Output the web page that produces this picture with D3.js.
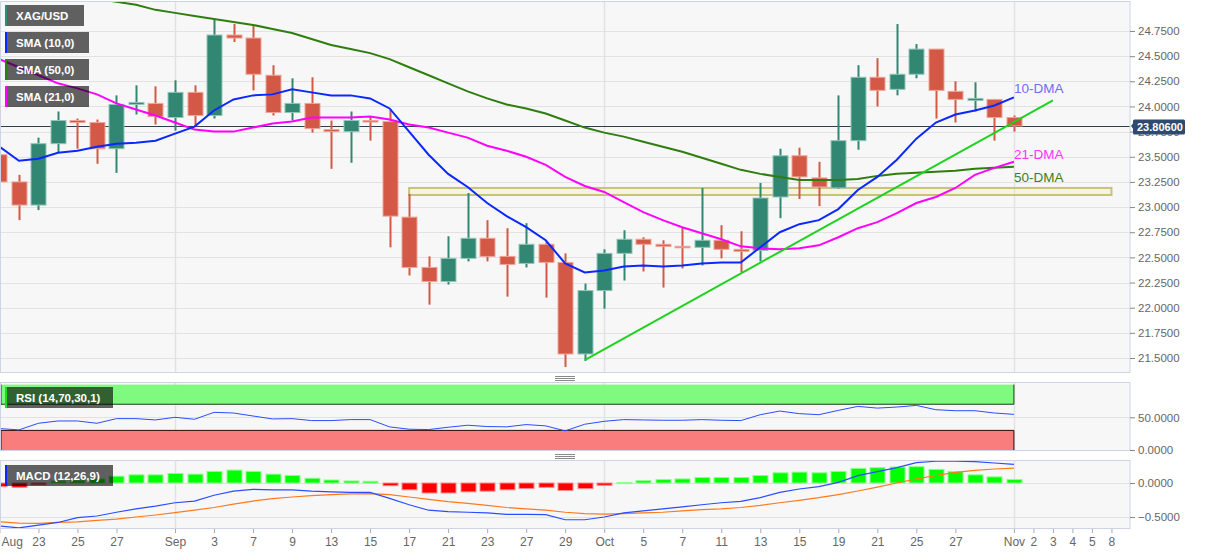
<!DOCTYPE html>
<html>
<head>
<meta charset="utf-8">
<script src="https://cdn.jsdelivr.net/npm/d3@7"></script>
<style>
  body { margin: 0; background: #fff; }
  svg { display: block; font-family: "Liberation Sans", Arial, sans-serif; }
</style>
</head>
<body>
<svg id="chart" width="1207" height="555"></svg>
<script>
// daily XAG/USD candles, Aug 19 - Nov 1
const days = [
  '2021-08-19','2021-08-20','2021-08-23','2021-08-24','2021-08-25','2021-08-26','2021-08-27','2021-08-30','2021-08-31',
  '2021-09-01','2021-09-02','2021-09-03','2021-09-06','2021-09-07','2021-09-08','2021-09-09','2021-09-10',
  '2021-09-13','2021-09-14','2021-09-15','2021-09-16','2021-09-17','2021-09-20','2021-09-21','2021-09-22',
  '2021-09-23','2021-09-24','2021-09-27','2021-09-28','2021-09-29','2021-09-30',
  '2021-10-01','2021-10-04','2021-10-05','2021-10-06','2021-10-07','2021-10-08','2021-10-11','2021-10-12',
  '2021-10-13','2021-10-14','2021-10-15','2021-10-18','2021-10-19','2021-10-20','2021-10-21','2021-10-22',
  '2021-10-25','2021-10-26','2021-10-27','2021-10-28','2021-10-29','2021-11-01'
];
const open = [23.52,23.25,23.02,23.63,23.86,23.84,23.58,24.02,24.03,
  23.89,24.14,23.91,24.71,24.68,24.31,23.94,24.03,23.77,23.75,23.86,23.85,22.90,22.40,22.26,22.49,
  22.69,22.51,22.44,22.63,22.45,21.54,
  22.17,22.54,22.68,22.63,22.61,22.60,22.67,22.58,22.57,23.10,23.51,23.29,23.19,23.66,24.29,24.17,
  24.32,24.57,24.15,24.06,24.07,23.89];
const high = [23.57,23.32,23.69,23.95,23.88,23.87,24.11,24.21,24.20,
  24.26,24.21,24.87,24.82,24.81,24.41,24.28,24.29,23.86,23.95,23.90,23.97,23.13,22.51,22.71,23.14,
  22.87,22.79,22.84,22.65,22.54,22.24,
  22.58,22.77,22.70,22.67,22.80,23.19,22.82,22.76,23.24,23.58,23.59,23.45,24.11,24.41,24.48,24.82,
  24.62,24.57,24.25,24.24,24.07,23.91];
const low = [23.10,22.87,22.97,23.54,23.58,23.43,23.34,23.92,23.82,
  23.76,23.81,23.88,24.64,24.16,23.91,23.86,23.74,23.38,23.44,23.66,22.60,22.32,22.03,22.23,22.46,
  22.46,22.11,22.40,22.10,21.41,21.47,
  21.99,22.27,22.36,22.20,22.39,22.42,22.49,22.35,22.46,22.89,23.08,23.01,23.18,23.57,24.00,24.11,
  24.28,23.88,23.84,23.95,23.66,23.75];
const close = [23.25,23.02,23.63,23.86,23.84,23.58,24.02,24.04,23.90,
  24.14,23.91,24.71,24.68,24.32,23.94,24.03,23.78,23.75,23.86,23.85,22.91,22.40,22.26,22.49,22.69,
  22.51,22.43,22.63,22.45,21.54,22.17,
  22.54,22.68,22.63,22.61,22.60,22.67,22.58,22.56,23.09,23.51,23.30,23.20,23.66,24.29,24.16,24.32,
  24.57,24.16,24.07,24.08,23.89,23.806];

const sma10 = [23.60,23.46,23.48,23.54,23.56,23.60,23.63,23.64,23.66,
  23.73,23.80,23.96,24.07,24.11,24.12,24.17,24.14,24.11,24.11,24.08,23.98,23.75,23.52,23.33,23.20,
  23.04,22.91,22.80,22.67,22.44,22.35,
  22.37,22.41,22.42,22.41,22.42,22.44,22.45,22.45,22.60,22.75,22.83,22.87,22.98,23.17,23.30,23.47,
  23.68,23.84,23.92,23.96,24.01,24.09];
const sma21 = [24.47,24.39,24.31,24.23,24.18,24.12,24.03,23.97,23.91,
  23.84,23.77,23.75,23.75,23.79,23.83,23.85,23.89,23.89,23.89,23.90,23.87,23.82,23.79,23.74,23.69,
  23.61,23.56,23.50,23.42,23.30,23.21,
  23.15,23.05,22.95,22.87,22.80,22.74,22.68,22.61,22.59,22.58,22.59,22.62,22.70,22.79,22.85,22.94,
  23.04,23.10,23.19,23.32,23.39,23.45];
const sma50 = [25.22,25.19,25.16,25.13,25.10,25.07,25.04,25.01,24.96,
  24.93,24.90,24.87,24.84,24.81,24.77,24.73,24.67,24.61,24.57,24.53,24.47,24.39,24.31,24.23,24.15,
  24.08,24.02,23.98,23.93,23.86,23.79,
  23.74,23.70,23.65,23.60,23.55,23.49,23.43,23.37,23.33,23.30,23.27,23.27,23.27,23.28,23.31,23.33,
  23.34,23.35,23.36,23.38,23.39,23.40];

const rsi = [32.8,30.8,40.9,44.4,44.4,40.9,48.0,48.0,46.0,
  50.0,47.0,57.6,56.6,52.0,47.5,48.0,45.0,45.0,46.5,46.5,35.4,31.8,31.3,34.8,37.9,
  35.9,35.4,38.9,36.9,29.3,39.4,
  43.9,46.5,46.0,45.5,45.5,46.5,45.5,45.0,54.0,59.6,55.6,54.0,60.6,66.7,64.1,65.7,
  68.2,61.6,60.1,60.1,56.6,54.5];
const macd = [-0.63,-0.66,-0.62,-0.58,-0.51,-0.485,-0.43,-0.38,-0.34,
  -0.29,-0.265,-0.18,-0.12,-0.093,-0.10,-0.10,-0.12,-0.13,-0.137,-0.137,-0.225,-0.32,-0.40,-0.42,-0.43,
  -0.44,-0.46,-0.46,-0.465,-0.54,-0.54,
  -0.50,-0.44,-0.41,-0.38,-0.35,-0.32,-0.29,-0.27,-0.216,-0.137,-0.088,-0.054,0.01,0.108,0.167,0.225,
  0.30,0.32,0.32,0.314,0.294,0.275];
const signal = [-0.57,-0.59,-0.593,-0.58,-0.57,-0.55,-0.53,-0.50,-0.47,
  -0.436,-0.40,-0.36,-0.31,-0.265,-0.23,-0.206,-0.186,-0.17,-0.16,-0.157,-0.17,-0.206,-0.24,-0.275,-0.30,
  -0.33,-0.36,-0.38,-0.40,-0.43,-0.45,
  -0.456,-0.45,-0.44,-0.43,-0.41,-0.39,-0.38,-0.36,-0.33,-0.29,-0.255,-0.216,-0.17,-0.118,-0.06,0.0,
  0.06,0.11,0.157,0.186,0.206,0.22];
const hist = [-0.054,-0.064,-0.025,0.03,0.04,0.06,0.10,0.12,0.12,
  0.14,0.13,0.17,0.19,0.17,0.13,0.11,0.07,0.044,0.03,0.025,-0.04,-0.10,-0.147,-0.147,-0.13,
  -0.12,-0.10,-0.08,-0.064,-0.11,-0.083,
  -0.034,0.005,0.034,0.05,0.06,0.08,0.08,0.08,0.11,0.15,0.16,0.15,0.17,0.215,0.225,0.235,
  0.24,0.20,0.167,0.12,0.09,0.05];

const priceTicks = [24.75,24.5,24.25,24.0,23.75,23.5,23.25,23.0,22.75,22.5,22.25,22.0,21.75,21.5];
const rsiTicks = [50, 0];
const macdTicks = [0, -0.5];
const tickDates = ['2021-08-19','2021-08-23','2021-08-25','2021-08-27','2021-09-01','2021-09-03','2021-09-07',
  '2021-09-09','2021-09-13','2021-09-15','2021-09-17','2021-09-21','2021-09-23','2021-09-27','2021-09-29',
  '2021-10-01','2021-10-05','2021-10-07','2021-10-11','2021-10-13','2021-10-15','2021-10-19','2021-10-21',
  '2021-10-25','2021-10-27','2021-11-01','2021-11-02','2021-11-03','2021-11-04','2021-11-05','2021-11-08'];
const tickLabels = ['Aug','23','25','27','Sep','3','7','9','13','15','17','21','23','27','29',
  'Oct','5','7','11','13','15','19','21','25','27','Nov','2','3','4','5','8'];
const monthStarts = ['2021-09-01','2021-10-01','2021-11-01'];

// drawn objects
const trendLine = [['2021-09-30', 21.48], ['2021-11-03', 24.06]];
const zone = {from: '2021-09-17', to: '2021-11-08', lo: 23.12, hi: 23.19};
const lastPrice = 23.806;

// weekday count from Sep 1 (trading day axis)
const base = new Date(Date.UTC(2021, 8, 1));
function dayIndex(s) {
  const d = new Date(s + 'T00:00:00Z');
  const lo = d < base ? d : base, hi = d < base ? base : d;
  const n = d3.utcDay.range(lo, hi).filter(t => t.getUTCDay() % 6 !== 0).length;
  return d < base ? -n : n;
}
const di = days.map(dayIndex);

const svg = d3.select('#chart');
const plotRight = 1130;
const P = {
  main: {top: 1, bottom: 373},
  rsi: {top: 382, bottom: 451},
  macd: {top: 460, bottom: 529}
};

const x = d3.scaleLinear().domain([-8.97, 48.95]).range([0, plotRight]);
const yMain = d3.scaleLinear().domain([21.351, 25.048]).range([P.main.bottom, P.main.top]);
const yRsi = d3.scaleLinear().domain([-1.5, 104]).range([P.rsi.bottom, P.rsi.top]);
const yMacd = d3.scaleLinear().domain([-0.676, 0.338]).range([P.macd.bottom, P.macd.top]);

const gridColor = '#e2e2e2';
const borderColor = '#cfd4e4';

// panel backgrounds + clip paths
const defs = svg.append('defs');
Object.entries(P).forEach(([k, p]) => {
  svg.append('rect').attr('x', 0.5).attr('y', p.top).attr('width', plotRight - 0.5)
    .attr('height', p.bottom - p.top).attr('fill', '#f7f7f7');
  defs.append('clipPath').attr('id', 'clip-' + k).append('rect')
    .attr('x', 1).attr('y', p.top).attr('width', plotRight - 1).attr('height', p.bottom - p.top);
});

function panel(k) {
  return svg.append('g').attr('clip-path', 'url(#clip-' + k + ')');
}

// grids
const gMain = panel('main');
gMain.selectAll('line.hg').data(priceTicks).join('line')
  .attr('x1', 0).attr('x2', plotRight)
  .attr('y1', d => Math.round(yMain(d)) + 0.5).attr('y2', d => Math.round(yMain(d)) + 0.5)
  .attr('stroke', gridColor);
const gRsi = panel('rsi');
gRsi.selectAll('line.hg').data(rsiTicks).join('line')
  .attr('x1', 0).attr('x2', plotRight)
  .attr('y1', d => Math.round(yRsi(d)) + 0.5).attr('y2', d => Math.round(yRsi(d)) + 0.5)
  .attr('stroke', gridColor);
const gMacd = panel('macd');
gMacd.selectAll('line.hg').data(macdTicks).join('line')
  .attr('x1', 0).attr('x2', plotRight)
  .attr('y1', d => Math.round(yMacd(d)) + 0.5).attr('y2', d => Math.round(yMacd(d)) + 0.5)
  .attr('stroke', gridColor);
[[gMain, P.main], [gRsi, P.rsi], [gMacd, P.macd]].forEach(([g, p]) => {
  g.selectAll('line.vg').data(monthStarts).join('line')
    .attr('x1', d => Math.round(x(dayIndex(d))) + 0.5).attr('x2', d => Math.round(x(dayIndex(d))) + 0.5)
    .attr('y1', p.top).attr('y2', p.bottom).attr('stroke', gridColor).attr('stroke-width', 1.5);
});

// resistance zone
gMain.append('rect')
  .attr('x', x(dayIndex(zone.from))).attr('width', x(dayIndex(zone.to)) - x(dayIndex(zone.from)))
  .attr('y', yMain(zone.hi)).attr('height', yMain(zone.lo) - yMain(zone.hi))
  .attr('fill', 'rgba(235,230,170,0.25)').attr('stroke', '#c9c27a').attr('stroke-width', 2);

// current price line
gMain.append('line').attr('x1', 0).attr('x2', plotRight)
  .attr('y1', Math.round(yMain(lastPrice)) + 0.5).attr('y2', Math.round(yMain(lastPrice)) + 0.5)
  .attr('stroke', '#2c3e50').attr('stroke-width', 1.2);

// candles
const upCol = '#318772', dnCol = '#d35845';
const idx = d3.range(days.length);
const isUp = i => close[i] >= open[i];
gMain.selectAll('line.wick').data(idx).join('line')
  .attr('x1', i => Math.round(x(di[i])) + 0.5).attr('x2', i => Math.round(x(di[i])) + 0.5)
  .attr('y1', i => yMain(high[i])).attr('y2', i => yMain(low[i]))
  .attr('stroke', i => isUp(i) ? upCol : dnCol).attr('stroke-width', 2);
gMain.selectAll('rect.body').data(idx).join('rect')
  .attr('x', i => Math.round(x(di[i])) - 7).attr('width', 15)
  .attr('y', i => yMain(Math.max(open[i], close[i])))
  .attr('height', i => Math.max(1.5, Math.abs(yMain(open[i]) - yMain(close[i]))))
  .attr('fill', i => isUp(i) ? upCol : dnCol)
  .attr('stroke', i => isUp(i) ? '#93c6b8' : '#eea597').attr('stroke-width', 1);

// moving averages
const lineOf = (vals, y) => d3.line().x((d, i) => x(di[i])).y(d => y(d))(vals);
gMain.append('path').attr('d', lineOf(sma50, yMain)).attr('fill', 'none').attr('stroke', '#2e7d0f').attr('stroke-width', 2);
gMain.append('path').attr('d', lineOf(sma21, yMain)).attr('fill', 'none').attr('stroke', '#ff00ff').attr('stroke-width', 2);
gMain.append('path').attr('d', lineOf(sma10, yMain)).attr('fill', 'none').attr('stroke', '#0a28ff').attr('stroke-width', 2);

// trend line
gMain.append('line')
  .attr('x1', x(dayIndex(trendLine[0][0]))).attr('y1', yMain(trendLine[0][1]))
  .attr('x2', x(dayIndex(trendLine[1][0]))).attr('y2', yMain(trendLine[1][1]))
  .attr('stroke', '#1ed21e').attr('stroke-width', 2);

// DMA labels
const lastX = x(di[di.length - 1]);
[['10-DMA', sma10, '#6f6cff', -4], ['21-DMA', sma21, '#ff33ff', -3], ['50-DMA', sma50, '#3f7d1f', 15]]
  .forEach(([t, arr, c, off]) => {
    svg.append('text').attr('x', lastX).attr('y', yMain(arr[arr.length - 1]) + off)
      .attr('font-size', 13.5).attr('fill', c).text(t);
  });

// RSI panel
gRsi.append('rect').attr('x', 0).attr('width', lastX).attr('y', yRsi(100)).attr('height', yRsi(70) - yRsi(100))
  .attr('fill', '#7efa7e');
gRsi.append('rect').attr('x', 0).attr('width', lastX).attr('y', yRsi(30)).attr('height', yRsi(0) - yRsi(30))
  .attr('fill', '#fa7d7d');
gRsi.append('path').attr('fill', 'none').attr('stroke', '#1a3d1a').attr('stroke-width', 1)
  .attr('d', `M1,${yRsi(100)}V${yRsi(70)}H${lastX}V${yRsi(100)}`);
gRsi.append('path').attr('fill', 'none').attr('stroke', '#2a0a0a').attr('stroke-width', 1)
  .attr('d', `M1,${yRsi(0)}V${yRsi(30)}H${lastX}V${yRsi(0)}`);
gRsi.append('path').attr('d', lineOf(rsi, yRsi)).attr('fill', 'none').attr('stroke', '#2b4dff').attr('stroke-width', 1);

// MACD panel
gMacd.selectAll('rect.bar').data(idx).join('rect')
  .attr('x', i => Math.round(x(di[i])) - 7).attr('width', 15)
  .attr('y', i => yMacd(Math.max(0, hist[i])))
  .attr('height', i => Math.max(1, Math.abs(yMacd(hist[i]) - yMacd(0))))
  .attr('fill', i => hist[i] >= 0 ? '#00ff00' : '#ff0000')
  .attr('stroke', i => hist[i] >= 0 ? '#8cff8c' : '#ff8c8c').attr('stroke-width', 1);
gMacd.append('path').attr('d', lineOf(signal, yMacd)).attr('fill', 'none').attr('stroke', '#ff7a1a').attr('stroke-width', 1.2);
gMacd.append('path').attr('d', lineOf(macd, yMacd)).attr('fill', 'none').attr('stroke', '#2b4dff').attr('stroke-width', 1.2);

// panel borders
Object.values(P).forEach(p => {
  svg.append('rect').attr('x', 0.5).attr('y', p.top + 0.5).attr('width', plotRight - 0.5)
    .attr('height', p.bottom - p.top - 1).attr('fill', 'none').attr('stroke', borderColor);
});

// resize handles
[377, 455].forEach(y0 => {
  [0, 2, 4].forEach(dy => {
    svg.append('line').attr('x1', 555).attr('x2', 575).attr('y1', y0 + dy - 0.5).attr('y2', y0 + dy - 0.5)
      .attr('stroke', '#8a8a8a').attr('stroke-width', 1);
  });
});

// right axes
function rightAxis(scale, ticks) {
  const g = svg.append('g').attr('transform', `translate(${plotRight},0)`)
    .call(d3.axisRight(scale).tickValues(ticks).tickFormat(d3.format('.4f')).tickSize(5).tickPadding(3));
  g.select('.domain').remove();
  g.selectAll('line').attr('stroke', '#888');
  g.selectAll('text').attr('fill', '#666').attr('font-size', 11.5)
    .attr('font-family', '"Liberation Sans", Arial, sans-serif');
}
rightAxis(yMain, priceTicks);
rightAxis(yRsi, rsiTicks);
rightAxis(yMacd, macdTicks);

// date axis
const xa = svg.append('g').attr('transform', `translate(0,${P.macd.bottom})`)
  .call(d3.axisBottom(x).tickValues(tickDates.map(dayIndex)).tickFormat((d, i) => tickLabels[i]).tickSize(4).tickPadding(4));
xa.select('.domain').remove();
xa.selectAll('line').attr('stroke', '#aaa');
xa.selectAll('text').attr('fill', '#666').attr('font-size', 12)
  .attr('font-family', '"Liberation Sans", Arial, sans-serif')
  .each(function(d) {
    if (x(d) < 12) d3.select(this).attr('text-anchor', 'start').attr('x', 1 - x(d));
  });

// last price tag (covers the axis label underneath, as in the source)
const ly = yMain(lastPrice);
svg.append('path').attr('d', `M${plotRight + 1},${ly} L${plotRight + 4},${ly - 4} V${ly + 4} Z`).attr('fill', '#2f4a6e');
svg.append('rect').attr('x', plotRight + 3).attr('y', ly - 6.5).attr('width', 52).attr('height', 15)
  .attr('rx', 1.5).attr('fill', '#2f4a6e');
svg.append('text').attr('x', plotRight + 7).attr('y', ly + 5).attr('fill', '#fff')
  .attr('font-size', 11).attr('font-weight', 'bold').text(lastPrice.toFixed(5));

// legends
const legends = [
  ['XAG/USD', 5, 79, '#2e8b74'],
  ['SMA (10,0)', 32, 84, '#0a28ff'],
  ['SMA (50,0)', 59, 84, '#2e7d0f'],
  ['SMA (21,0)', 86, 84, '#ff00ff'],
  ['RSI (14,70,30,1)', 387, 108, '#16e016'],
  ['MACD (12,26,9)', 465, 108, '#0a28ff']
];
legends.forEach(([t, y, w, c]) => {
  svg.append('rect').attr('x', 5).attr('y', y).attr('width', w).attr('height', 21).attr('fill', 'rgba(0,0,0,0.61)');
  svg.append('rect').attr('x', 5).attr('y', y).attr('width', 2).attr('height', 21).attr('fill', c);
  svg.append('text').attr('x', 16).attr('y', y + 14.5).attr('fill', '#fff').attr('font-size', 11.5)
    .attr('font-weight', 'bold').text(t);
});
</script>
</body>
</html>
